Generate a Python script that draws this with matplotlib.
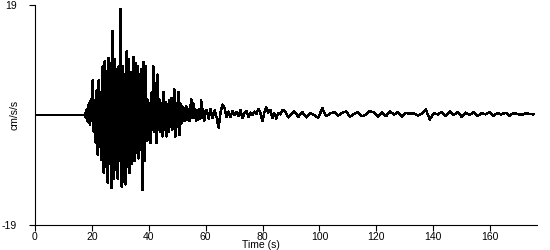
import numpy as np
import matplotlib
matplotlib.use('Agg')
import matplotlib.pyplot as plt

plt.rcParams['font.family'] = ['Liberation Sans', 'DejaVu Sans']

# quiet part before the event
pre_start = 0.0
pre_dt = 3.5
pre_vals = [0.0, 0.0, 0.0, 0.0, 0.0, 0.0]

# strong motion, one sample per ~pixel column
strong_start = 17.5
strong_dt = 0.35
strong_vals = [
    0.3, -0.5, 1.0, -1.2, 2.0, -1.7, 2.7, -1.0, 6.1, -3.0,
    2.5, -4.8, 4.3, -6.9, 6.0, -5.5, 4.0, -7.8, 8.4, -10.0,
    9.3, -9.0, 7.5, -11.7, 9.9, -8.5, 9.0, -12.6, 14.5, -11.0,
    9.6, -9.5, 8.0, -11.0, 8.4, -8.0, 18.3, -12.4, 8.4, -11.5,
    7.0, -12.0, 11.0, -9.0, 9.6, -10.0, 7.4, -8.5, -7.0, 10.0,
    -8.0, 9.0, -6.5, 8.5, -7.5, 7.0, -6.0, 8.0, -13.0, 9.2,
    -8.0, 8.5, -4.5, 2.7, -4.3, 2.0, -4.8, 3.9, -2.5, 8.4,
    -3.0, 5.5, -4.8, 7.0, -2.5, 2.7, -3.0, 2.0, -3.7, 4.0,
    -2.5, 2.3, -3.7, 1.8, -3.0, 2.5, -2.0, 3.0, -2.5, 2.0,
    4.4, -3.7, 2.0, -2.0, 4.0, -3.5, 2.0, -1.5, 1.5, -1.1,
    1.2, -1.0, 1.5, -0.8, 1.0, -1.1, 1.3, 2.7, -0.5, 2.0,
    -0.5, 1.0, -1.0, 0.8, -0.8, 1.0, -0.6, 2.5, -0.5, 1.0, -1.0, 0.6,
]

# coda
coda_start = 60.35
coda_dt = 0.7
coda_vals = [
    0.9, -0.6, 1.0, -0.5, 0.8, -0.4, -2.2, 0.5, 1.8, 1.2,
    -0.4, 0.6, -0.3, 0.7, 0.0, 0.5, -0.2, 0.8, -0.5, 0.3,
    0.7, -0.3, 0.4, 0.0, 0.6, 0.2, 1.0, 0.3, -1.1, 0.5,
    1.3, 0.4, 0.9, -0.5, 0.3, -0.6, 0.4, 0.1, 0.9, 0.8,
    0.2, -0.4,
]

# tail
tail_start = 89.8
tail_dt = 1.4
tail_vals = [
    0.0, 0.6, -0.3, 0.5, -0.4, 0.3, 0.0, -0.5, 1.2, -0.2,
    0.3, 0.5, -0.1, 0.4, 0.6, -0.3, 0.2, 0.5, -0.2, 0.1,
    0.7, 0.4, -0.3, 0.5, -0.2, 0.6, 0.1, 0.5, -0.3, 0.4,
    0.2, 0.3, -0.1, 0.2, 1.0, -0.8, 0.3, 0.1, 0.5, -0.2,
    0.6, 0.0, 0.5, -0.3, 0.4, 0.0, 0.5, -0.2, 0.3, 0.1,
    0.5, -0.1, 0.3, 0.1, 0.4, -0.1, 0.3, 0.2, 0.0, 0.3,
    0.2, 0.1,
]

segments = [(pre_start, pre_dt, pre_vals), (strong_start, strong_dt, strong_vals),
            (coda_start, coda_dt, coda_vals), (tail_start, tail_dt, tail_vals)]
t = []
acc = []
for start, dt, vals in segments:
    t.extend(start + dt * np.arange(len(vals)))
    acc.extend(vals)

fig = plt.figure(figsize=(5.5, 2.5), dpi=100)
ax = fig.add_axes([0.0636, 0.1, 0.9128, 0.88])
ax.plot(t, acc, color='black', linewidth=1.0, antialiased=False)

ax.set_xlim(0, 176.5)
ax.set_ylim(-19, 19)
ax.set_xticks(np.arange(0, 161, 20))
ax.set_yticks([-19, 19])
ax.set_yticklabels(['-19', '19'])
ax.tick_params(axis='both', labelsize=7.5, length=4, width=0.8, direction='out')
ax.tick_params(axis='x', pad=1)
ax.tick_params(axis='y', pad=9)
ax.spines['top'].set_visible(False)
ax.spines['right'].set_visible(False)
ax.spines['left'].set_linewidth(0.8)
ax.spines['bottom'].set_linewidth(0.8)
ax.set_xlabel('Time (s)', fontsize=7.5)
ax.xaxis.set_label_coords(0.45, -0.07)
ax.set_ylabel('cm/s/s', fontsize=7.5)
ax.yaxis.set_label_coords(-0.03, 0.5)

fig.savefig('out.png', dpi=100)
